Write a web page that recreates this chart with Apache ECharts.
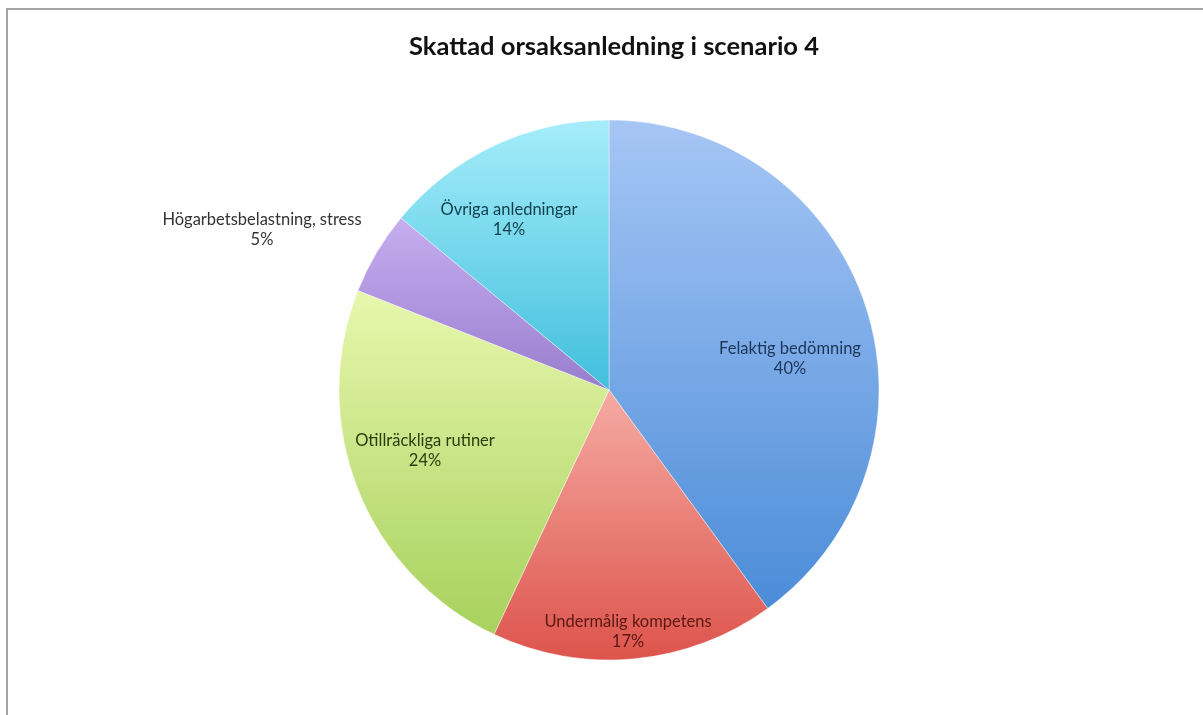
<!DOCTYPE html>
<html>
<head>
<meta charset="utf-8">
<script src="https://cdn.jsdelivr.net/npm/echarts@6/dist/echarts.min.js"></script>
<style>
html,body{margin:0;padding:0;background:#fff;}
#c{width:1203px;height:715px;}
</style>
</head>
<body>
<div id="c"></div>
<script>
// ---- data ----
const titleText = 'Skattad orsaksanledning i scenario 4';
const categories = ['Felaktig bedömning', 'Undermålig kompetens', 'Otillräckliga rutiner', 'Högarbetsbelastning, stress', 'Övriga anledningar'];
const values = [40, 17, 24, 5, 14];

// ---- style ----
const gradients = [
  ['#a6c6f5', '#4b8cd8'],
  ['#f5aba3', '#dd544c'],
  ['#e8f7ae', '#a7d15c'],
  ['#c6aef0', '#997dce'],
  ['#a6edfa', '#40bfdd']
];
const textColors = ['#1d3557', '#5a1812', '#2a3c0e', '#333333', '#0f3f4b'];
const labelPos = [[790, 359], [628, 632], [425, 451], [262, 230], [509, 220]];
const font = 'Lato, "Open Sans", sans-serif';

const chart = echarts.init(document.getElementById('c'), null, {renderer: 'canvas'});

const data = categories.map((name, i) => ({
  name: name,
  value: values[i],
  itemStyle: {
    color: {
      type: 'linear', x: 0, y: 0, x2: 0, y2: 1,
      colorStops: [{offset: 0, color: gradients[i][0]}, {offset: 1, color: gradients[i][1]}]
    }
  },
  label: {
    color: textColors[i],
    position: i === 3 ? 'outside' : 'inside'
  },
  labelLine: {show: false}
}));

chart.setOption({
  animation: false,
  backgroundColor: '#ffffff',
  title: {
    text: titleText,
    left: 609,
    textAlign: 'center',
    top: 29,
    textStyle: {fontFamily: font, fontSize: 25.5, fontWeight: 'bold', color: '#111'}
  },
  graphic: [{
    type: 'rect',
    shape: {x: 7, y: 9, width: 1400, height: 900},
    style: {fill: 'none', stroke: '#a3a3a3', lineWidth: 2},
    silent: true
  }],
  series: [{
    type: 'pie',
    center: [609, 390],
    radius: 270,
    startAngle: 90,
    clockwise: true,
    data: data,
    itemStyle: {borderColor: 'rgba(255,255,255,0.4)', borderWidth: 1},
    label: {
      show: true,
      formatter: '{b}\n{c}%',
      fontFamily: font,
      fontSize: 16.5,
      lineHeight: 20,
      align: 'center'
    },
    labelLine: {show: false},
    labelLayout: function (params) {
      const p = labelPos[params.dataIndex];
      return {x: p[0], y: p[1], align: 'center', verticalAlign: 'middle'};
    }
  }]
});
</script>
</body>
</html>
